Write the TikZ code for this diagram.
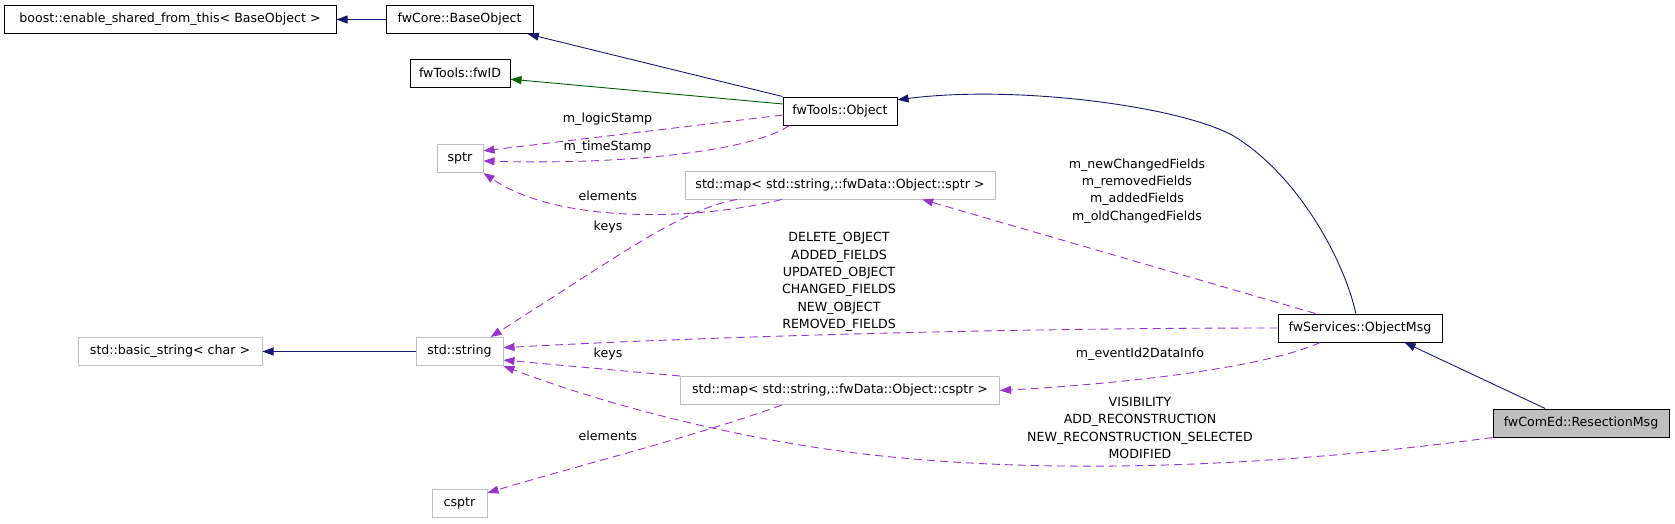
\documentclass[tikz,border=0pt]{standalone}
\usepackage{fontspec}
\setmainfont{DejaVu Sans}
\usetikzlibrary{arrows.meta,positioning}
\definecolor{midnight}{RGB}{25,25,112}
\definecolor{darkgrn}{RGB}{0,100,0}
\definecolor{orchid}{RGB}{154,50,205}
\definecolor{greyline}{RGB}{191,191,191}
\newcommand{\dgfont}{\fontsize{12.6}{17.3}\selectfont}
\tikzset{
  cls/.style={draw=black,line width=1pt,minimum height=28pt,inner sep=0pt,font=\dgfont},
  ext/.style={cls,draw=greyline},
  cur/.style={cls,fill=greyline},
  lbl/.style={align=center,inner sep=0pt,font=\dgfont},
  inh/.style={->,draw=midnight,line width=0.9pt},
  pub/.style={->,draw=darkgrn,line width=0.9pt},
  use/.style={->,draw=orchid,line width=0.9pt,dash pattern=on 8pt off 5pt},
}

\begin{document}
\begin{tikzpicture}[x=1pt,y=-1pt,>={Triangle[length=11pt,width=8pt]}]
  \useasboundingbox (0,0) rectangle (1675,523);
  \node[cls,minimum width=332pt] (boost) at (170,19.5) {boost::enable\_shared\_from\_this< BaseObject >};
  \node[cls,minimum width=147pt] (base) at (459.5,19.5) {fwCore::BaseObject};
  \node[cls,minimum width=100pt] (fwid) at (460,73) {fwTools::fwID};
  \node[ext,minimum width=46pt] (sptr) at (460,158.5) {sptr};
  \node[cls,minimum width=114pt] (obj) at (840,111) {fwTools::Object};
  \node[ext,minimum width=310pt] (mapsptr) at (840,185) {std::map< std::string,::fwData::Object::sptr >};
  \node[ext,minimum width=184pt] (basicstr) at (170,351.5) {std::basic\_string< char >};
  \node[ext,minimum width=87pt] (str) at (459.5,351.5) {std::string};
  \node[ext,minimum width=319pt] (mapcsptr) at (840,390.5) {std::map< std::string,::fwData::Object::csptr >};
  \node[ext,minimum width=55pt] (csptr) at (459.5,503) {csptr};
  \node[cls,minimum width=164pt] (msg) at (1360,328) {fwServices::ObjectMsg};
  \node[cur,minimum width=176pt] (resec) at (1581,423) {fwComEd::ResectionMsg};

  \node[lbl] (lLogic) at (607.5,119) {m\_logicStamp};
  \node[lbl] (lTime) at (607.5,147) {m\_timeStamp};
  \node[lbl] (lElemA) at (608,196) {elements};
  \node[lbl] (lKeysA) at (608,227) {keys};
  \node[lbl] (lFields) at (1137,191) {m\_newChangedFields\\m\_removedFields\\m\_addedFields\\m\_oldChangedFields};
  \node[lbl] (lEvents) at (839,282) {DELETE\_OBJECT\\ADDED\_FIELDS\\UPDATED\_OBJECT\\CHANGED\_FIELDS\\NEW\_OBJECT\\REMOVED\_FIELDS};
  \node[lbl] (lKeysB) at (608,354) {keys};
  \node[lbl] (lInfo) at (1140,354) {m\_eventId2DataInfo};
  \node[lbl] (lElemB) at (608,436) {elements};
  \node[lbl] (lResec) at (1140,428) {VISIBILITY\\ADD\_RECONSTRUCTION\\NEW\_RECONSTRUCTION\_SELECTED\\MODIFIED};

  \draw[inh] (base.west) -- (boost.east);
  \draw[inh] (obj.north west) -- (base.-12);
  \draw[pub] (obj.173) -- (fwid.-7);
  \draw[inh] (str.west) -- (basicstr.east);
  \draw[inh] (msg.106) .. controls (1344,260) and (1300,180) .. (1240,140) .. controls (1195,108) and (1020,84) .. (obj.11);
  \draw[inh] (resec.158) -- (msg.-18);
  \draw[use] (obj.184) -- (sptr.18);
  \draw[use] (obj.196) .. controls (750,152) and (620,165) .. (sptr.-6);
  \draw[use] (mapsptr.194) .. controls (700,220) and (560,225) .. (sptr.south east);
  \draw[use] (mapsptr.188) .. controls (680,210) and (620,255) .. (str.25);
  \draw[use] (msg.162) -- (mapsptr.-10);
  \draw[use] (msg.west) .. controls (1000,328) and (700,337) .. (str.5);
  \draw[use] (mapcsptr.north west) -- (str.-11);
  \draw[use] (msg.200) .. controls (1270,365) and (1150,382) .. (mapcsptr.east);
  \draw[use] (mapcsptr.194) .. controls (700,435) and (580,465) .. (csptr.20);
  \draw[use] (resec.south west) .. controls (1250,470) and (1000,478) .. (800,445) .. controls (680,425) and (580,395) .. (str.south east);
\end{tikzpicture}
\end{document}
